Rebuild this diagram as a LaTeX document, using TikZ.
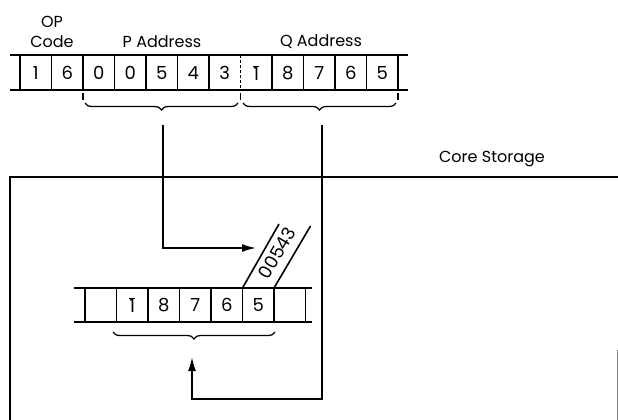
\documentclass[tikz,border=0pt]{standalone}
\usepackage{fontspec}
\setmainfont{Poppins}
\usepackage{tikz}
\tikzset{>=latex}
\usetikzlibrary{arrows.meta}
\usetikzlibrary{decorations.pathreplacing}

\tikzset{
  reg/.style={line width=1.8pt},
  digit/.style={font=\fontsize{18}{18}\selectfont, inner sep=0pt},
  fieldname/.style={font=\fontsize{16}{16}\selectfont, inner sep=0pt},
  field/.style={decorate, decoration={brace, mirror, amplitude=7pt}, line width=1.3pt},
  flow/.style={line width=1.8pt, -{Latex[length=14pt,width=8pt]}},
}
\newcommand{\barone}{\ensuremath{\overline{\mbox{1}}}}

\begin{document}
\begin{tikzpicture}[x=1pt,y=-1pt]
\useasboundingbox (0,0) rectangle (618,420);
% instruction register
\draw[reg] (10,55) -- (408,55) (10,90) -- (408,90);
\foreach \i in {0,...,12} {
  \ifnum\i=7 \draw[reg, densely dashed] ({20+31.5*\i},55) -- ++(0,35);
  \else \draw[reg] ({20+31.5*\i},55) -- ++(0,35); \fi
}
\foreach \d [count=\i from 0] in {1,6,0,0,5,4,3,\barone,8,7,6,5}
  \node[digit] (i\i) at ({35.75+31.5*\i},73) {\d};
\foreach \x in {83,240.5,398} \draw[line width=1.2pt] (\x,93) -- (\x,100);
\node[fieldname] (op) at (52,22) {OP};
\node[fieldname] (code) at (52,42) {Code};
\node[fieldname] (paddr) at (162,42) {P Address};
\node[fieldname] (qaddr) at (321,42) {Q Address};
\draw[field] (85,103) -- (238,103);
\draw[field] (243,103) -- (396,103);
% core storage
\draw[line width=2.8pt] (618,177) -- (10,177) -- (10,420);
\draw[gray, line width=0.8pt] (617,350) -- (617,420);
\node[fieldname] (core) at (492,159) {Core Storage};
% storage locations
\draw[reg] (74,288) -- (312,288) (74,322) -- (312,322);
\foreach \i in {0,...,7} \draw[reg] ({85+31.5*\i},288) -- ++(0,34);
\foreach \d [count=\i from 1] in {\barone,8,7,6,5}
  \node[digit] (c\i) at ({100.75+31.5*\i},305) {\d};
\draw[line width=1.6pt] (242.5,288) -- ++(36.5,-64) (274,288) -- ++(36.5,-62);
\node[digit, rotate=60] (moved) at (277,253) {00543};
\draw[field] (113,332) -- (275,332);
% data flow
\coordinate (pfield) at (163,125);
\coordinate (qfield) at (322,125);
\coordinate (ptgt) at (256,248);
\coordinate (qturn) at (192,399);
\coordinate (qtgt) at (192,357);
\draw[flow] (pfield) |- (ptgt);
\draw[flow] (qfield) |- (qturn) -- (qtgt);
\end{tikzpicture}
\end{document}
